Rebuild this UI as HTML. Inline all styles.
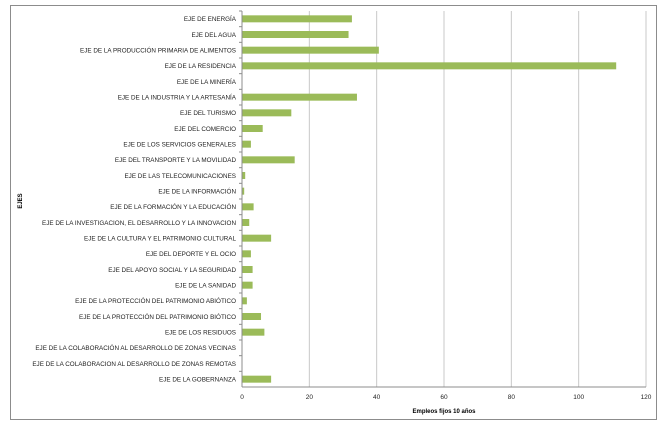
<!DOCTYPE html>
<html><head><meta charset="utf-8"><style>
body{margin:0;background:#fff;font-family:"Liberation Sans",sans-serif}
</style></head><body>
<svg width="665" height="425" id="c" xmlns="http://www.w3.org/2000/svg">
<rect x="10.5" y="5.5" width="646" height="414" fill="#fff" stroke="#8c8c8c"/>
<g id="grid"></g><g id="bars"></g><g id="labels"></g><g id="ticks"></g>
<text x="22" y="201" font-size="6" font-weight="bold" transform="rotate(-90 22 201)" text-anchor="middle">EJES</text>
<text x="444" y="413" font-size="6" font-weight="bold" text-anchor="middle">Empleos fijos 10 años</text>
</svg>
<script>
const categories=["EJE DE ENERGÍA","EJE DEL AGUA","EJE DE LA PRODUCCIÓN PRIMARIA DE ALIMENTOS","EJE DE LA RESIDENCIA","EJE DE LA MINERÍA","EJE DE LA INDUSTRIA Y LA ARTESANÍA","EJE DEL TURISMO","EJE DEL COMERCIO","EJE DE LOS SERVICIOS GENERALES","EJE DEL TRANSPORTE Y LA MOVILIDAD","EJE DE LAS TELECOMUNICACIONES","EJE DE LA INFORMACIÓN","EJE DE LA FORMACIÓN Y LA EDUCACIÓN","EJE DE LA INVESTIGACION, EL DESARROLLO Y LA INNOVACION","EJE DE LA CULTURA Y EL PATRIMONIO CULTURAL","EJE DEL DEPORTE Y EL OCIO","EJE DEL APOYO SOCIAL Y LA SEGURIDAD","EJE DE LA SANIDAD","EJE DE LA PROTECCIÓN DEL PATRIMONIO ABIÓTICO","EJE DE LA PROTECCIÓN DEL PATRIMONIO BIÓTICO","EJE DE LOS RESIDUOS","EJE DE LA COLABORACIÓN AL DESARROLLO DE ZONAS VECINAS","EJE DE LA COLABORACION AL DESARROLLO DE ZONAS REMOTAS","EJE DE LA GOBERNANZA"];
const values=[32.5,31.5,40.5,111,0,34,14.5,6,2.5,15.5,0.8,0.5,3.3,2,8.5,2.5,3,3,1.3,5.5,6.5,0,0,8.5];
const xTicks=[0,20,40,60,80,100,120];
const NS="http://www.w3.org/2000/svg";
const x0=242,x1=646,yTop=11,yBot=387,xMax=120;
const xs=v=>x0+(v/xMax)*(x1-x0);
const band=(yBot-yTop)/categories.length;
const ys=i=>yTop+band*(i+0.5);
function mk(t,a,p){const e=document.createElementNS(NS,t);for(const k in a)e.setAttribute(k,a[k]);document.getElementById(p).appendChild(e);return e;}
xTicks.forEach(t=>{
 const g=mk('line',{x1:xs(t),x2:xs(t),y1:yTop,y2:yBot,stroke:t===0?'#8c8c8c':'#c8c8c8','stroke-width':1},'grid');
 
 
 const l=mk('text',{x:xs(t),y:yBot+12,'font-size':6.5,'text-anchor':'middle',fill:'#222'},'ticks');
 l.textContent=t;
 
 
});
const ax=mk('line',{x1:x0,x2:x1,y1:yBot,y2:yBot,stroke:'#8c8c8c'},'grid');


categories.forEach((c,i)=>{
 const y=ys(i);
 const tk=mk('line',{x1:x0-3,x2:x0,y1:yTop+band*i,y2:yTop+band*i,stroke:'#8c8c8c'},'grid');
 
 
 const r=mk('rect',{x:x0+0.5,y:y-3.5,width:Math.max(0,xs(values[i])-x0),height:7,fill:'#9bbb59'},'bars');
 
 
 const t=mk('text',{x:x0-6,y:y+2.3,'font-size':6.3,'text-anchor':'end',fill:'#222'},'labels');
 t.textContent=c;
 
 
});
</script>
</body></html>
